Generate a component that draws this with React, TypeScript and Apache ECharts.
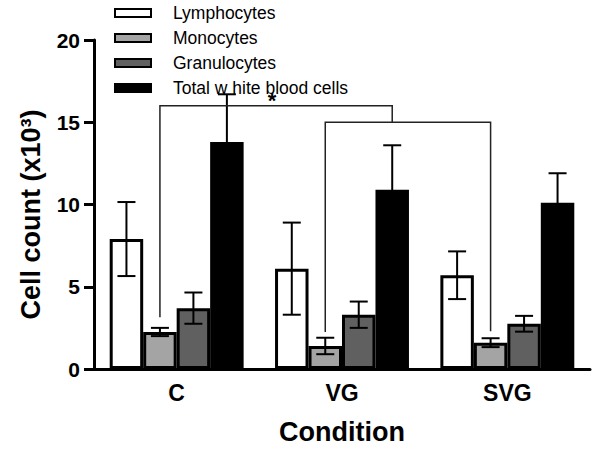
import React, { useEffect, useRef } from "react";
import * as echarts from "echarts";

const categories = ["C", "VG", "SVG"];
const seriesNames = ["Lymphocytes", "Monocytes", "Granulocytes", "Total w hite blood cells"];
const lymphocytes = [7.9, 6.1, 5.7];
const lymphErr = [2.25, 2.8, 1.45];
const monocytes = [2.25, 1.4, 1.6];
const monoErr = [0.25, 0.5, 0.27];
const granulocytes = [3.7, 3.3, 2.75];
const granErr = [0.95, 0.8, 0.48];
const totalWbc = [13.8, 10.9, 10.1];
const totalErr = [2.9, 2.7, 1.8];
const yTicks = { min: 0, max: 20, interval: 5 };
// significance brackets: [categoryIndex, barSlot, value]
const brackets = [
  [[0, 1, 3.15], [0, 1, 16.0], [1, 3, 16.0], [1, 3, 15.0]],
  [[1, 1, 2.25], [1, 1, 15.0], [2, 1, 15.0], [2, 1, 2.3]],
];
const starLabel = "*";

const FONT = "'Liberation Sans', Arial, Helvetica, sans-serif";
const fills = ["#ffffff", "#a4a4a4", "#606060", "#000000"];
const values = [lymphocytes, monocytes, granulocytes, totalWbc];
const errs = [lymphErr, monoErr, granErr, totalErr];
const CAT_GAP = 0.19;

export default function App() {
  const ref = useRef<HTMLDivElement>(null);
  useEffect(() => {
    if (!ref.current) return;
    document.body.style.margin = "0";
    const chart = echarts.init(ref.current, null, { renderer: "svg" });

    const slotX = (api: any, cat: number, slot: number, v: number) => {
      const c = api.coord([cat, v]);
      const bw = (api.size([1, 0])[0] * (1 - CAT_GAP)) / 4;
      return [c[0] + (slot - 1.5) * bw, c[1]];
    };

    const barSeries = seriesNames.map((name, k) => ({
      name,
      type: "bar",
      data: values[k],
      barGap: "0%",
      barCategoryGap: CAT_GAP * 100 + "%",
      itemStyle: { color: fills[k], borderColor: "#000", borderWidth: 3 },
      z: 2,
    }));

    const errData: number[][] = [];
    errs.forEach((arr, k) => arr.forEach((e, i) => errData.push([i, values[k][i], e, k])));

    const option: any = {
      animation: false,
      grid: { left: 94, right: 10, top: 40, bottom: 80 },
      legend: {
        data: seriesNames,
        orient: "vertical",
        left: 114,
        top: 4,
        padding: 0,
        itemWidth: 36,
        itemHeight: 8,
        itemGap: 7,
        selectedMode: false,
        icon: "rect",
        textStyle: {
          fontFamily: FONT,
          fontSize: 17.5,
          color: "#000",
          lineHeight: 18,
          padding: [0, 0, 0, 17],
        },
      },
      xAxis: {
        type: "category",
        data: categories,
        name: "Condition",
        nameLocation: "middle",
        nameGap: 49,
        nameTextStyle: { fontFamily: FONT, fontWeight: "bold", fontSize: 27, color: "#000" },
        axisLine: { lineStyle: { color: "#000", width: 3 } },
        axisTick: { alignWithLabel: true, length: 10, lineStyle: { color: "#000", width: 3 } },
        axisLabel: { fontFamily: FONT, fontWeight: "bold", fontSize: 23, color: "#000", margin: 12 },
      },
      yAxis: {
        type: "value",
        min: yTicks.min,
        max: yTicks.max,
        interval: yTicks.interval,
        name: "Cell count (x10³)",
        nameLocation: "middle",
        nameGap: 50,
        nameTextStyle: {
          fontFamily: FONT,
          fontWeight: "bold",
          fontSize: 27,
          color: "#000",
          padding: [0, 20, 0, 0],
        },
        axisLine: { show: true, lineStyle: { color: "#000", width: 3 } },
        axisTick: { show: true, length: 10, lineStyle: { color: "#000", width: 3 } },
        axisLabel: { fontFamily: FONT, fontWeight: "bold", fontSize: 21, color: "#000", margin: 14 },
        splitLine: { show: false },
      },
      series: [
        ...barSeries,
        {
          type: "custom",
          name: "errors",
          data: errData,
          encode: { x: 0, y: 1 },
          z: 3,
          clip: false,
          renderItem: (params: any, api: any) => {
            const cat = api.value(0);
            const v = api.value(1);
            const e = api.value(2);
            const k = api.value(3);
            const [x] = slotX(api, cat, k, v);
            const yt = api.coord([cat, v + e])[1];
            const yb = api.coord([cat, v - e])[1];
            const half = 9;
            const st = { stroke: "#000", lineWidth: 2 };
            return {
              type: "group",
              children: [
                { type: "line", shape: { x1: x, y1: yt, x2: x, y2: yb }, style: st },
                { type: "line", shape: { x1: x - half, y1: yt, x2: x + half, y2: yt }, style: st },
                { type: "line", shape: { x1: x - half, y1: yb, x2: x + half, y2: yb }, style: st },
              ],
            };
          },
        },
        {
          type: "custom",
          name: "brackets",
          data: brackets.map((_, i) => [i, 0]),
          encode: { x: 0, y: 1 },
          z: 4,
          clip: false,
          renderItem: (params: any, api: any) => {
            const b = brackets[params.dataIndex];
            const pts = b.map((p) => slotX(api, p[0], p[1], p[2]));
            const children: any[] = [
              { type: "polyline", shape: { points: pts }, style: { stroke: "#222", lineWidth: 1.5, fill: null } },
            ];
            if (params.dataIndex === 0) {
              const mx = (pts[1][0] + pts[2][0]) / 2 - 4;
              children.push({
                type: "text",
                style: {
                  text: starLabel,
                  x: mx,
                  y: pts[1][1] + 6,
                  align: "center",
                  verticalAlign: "bottom",
                  fontSize: 22,
                  fontWeight: "bold",
                  fontFamily: FONT,
                  fill: "#000",
                },
              });
            }
            return { type: "group", children };
          },
        },
      ],
    };
    chart.setOption(option);
    return () => chart.dispose();
  }, []);
  return <div ref={ref} style={{ width: 600, height: 450 }} />;
}
